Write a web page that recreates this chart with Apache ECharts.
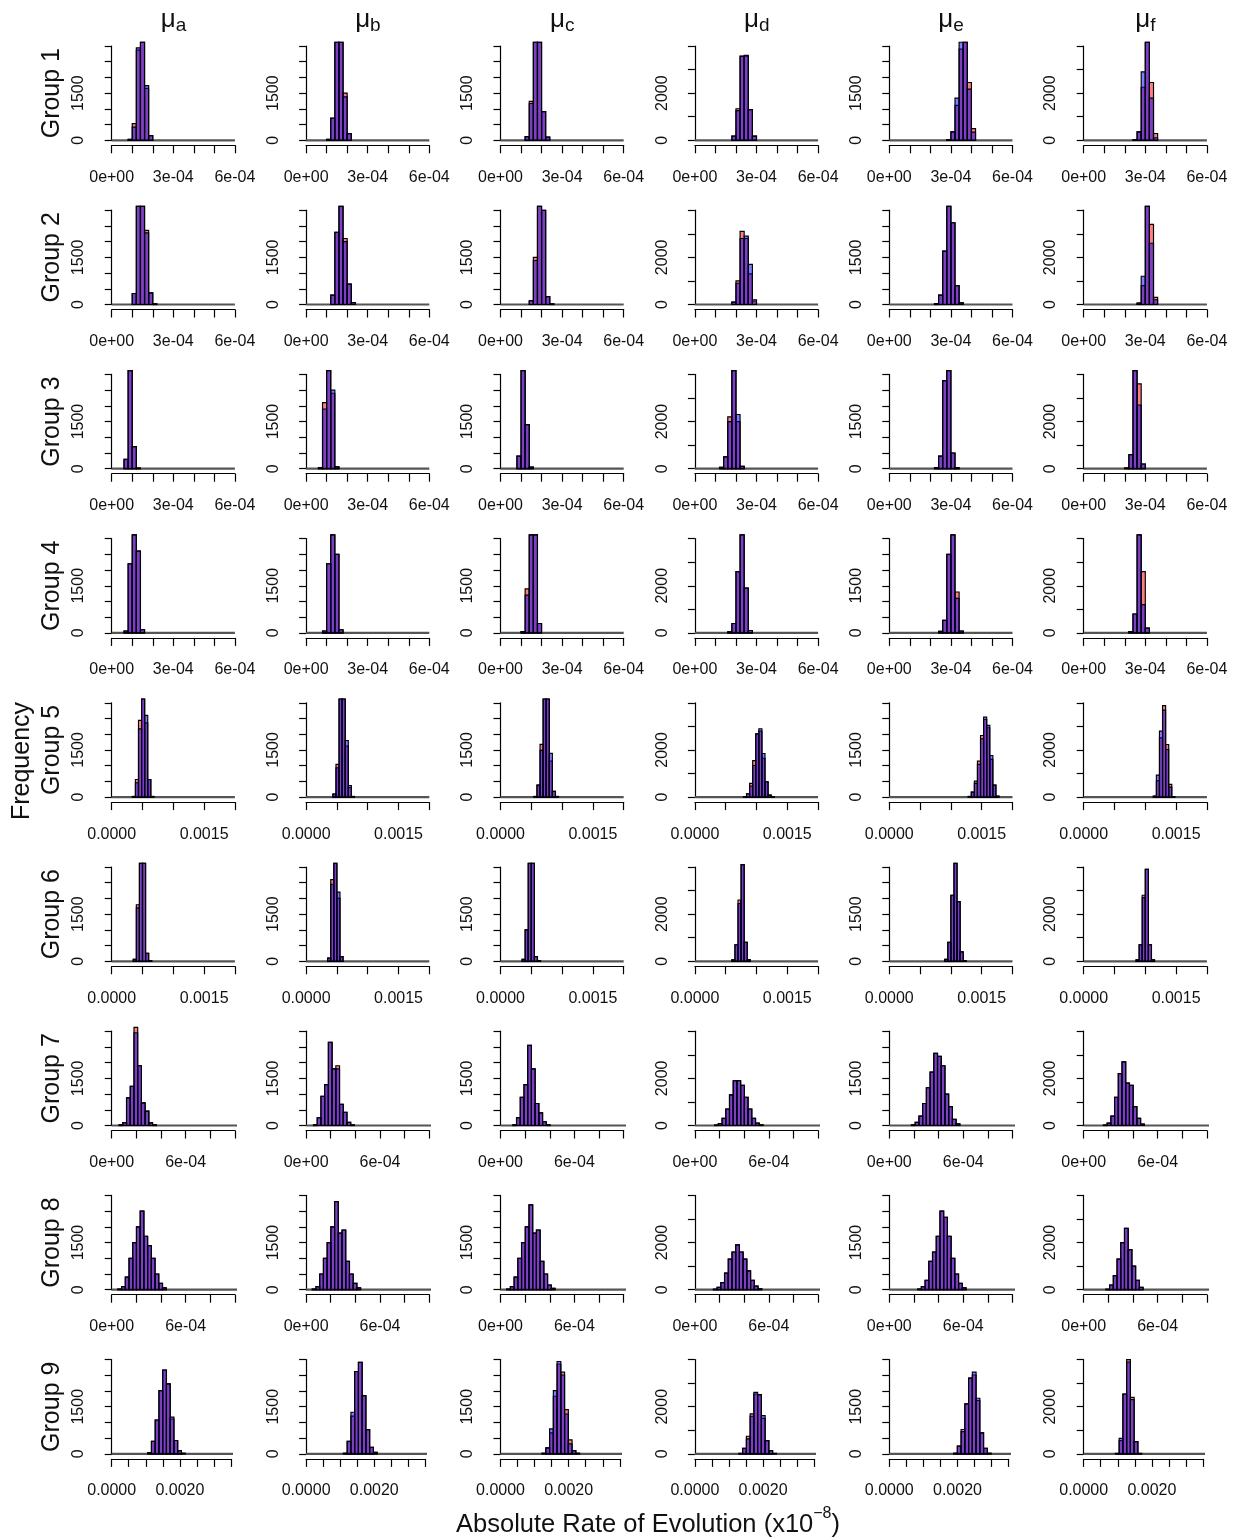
<!DOCTYPE html>
<html>
<head>
<meta charset="utf-8">
<script src="https://cdn.jsdelivr.net/npm/echarts@6/dist/echarts.min.js"></script>
<style>
  html, body { margin: 0; padding: 0; background: #fff; }
  #chart { width: 1236px; height: 1539px; }
</style>
</head>
<body>
<div id="chart"></div>
<script>
// ---- labels ----
const GROUP_LABELS = ['Group 1', 'Group 2', 'Group 3', 'Group 4', 'Group 5', 'Group 6', 'Group 7', 'Group 8', 'Group 9'];
const PARAM_SUBS = ['a', 'b', 'c', 'd', 'e', 'f'];

// ---- x axis per group (row) ----
const X_AXIS_MAX  = [6e-4, 6e-4, 6e-4, 6e-4, 0.002, 0.002, 0.001, 0.001, 0.0035];
const X_TICK_STEP = [1e-4, 1e-4, 1e-4, 1e-4, 5e-4, 5e-4, 2e-4, 2e-4, 5e-4];
const X_LABEL_AT  = [[0, 3e-4, 6e-4], [0, 3e-4, 6e-4], [0, 3e-4, 6e-4], [0, 3e-4, 6e-4],
                     [0, 0.0015], [0, 0.0015], [0, 6e-4], [0, 6e-4], [0, 0.002]];
const X_LABEL_TXT = [['0e+00', '3e-04', '6e-04'], ['0e+00', '3e-04', '6e-04'], ['0e+00', '3e-04', '6e-04'], ['0e+00', '3e-04', '6e-04'],
                     ['0.0000', '0.0015'], ['0.0000', '0.0015'], ['0e+00', '6e-04'], ['0e+00', '6e-04'], ['0.0000', '0.0020']];
const BIN_WIDTH   = [2e-5, 2e-5, 2e-5, 2e-5, 5e-5, 5e-5, 3.02e-5, 3.02e-5, 1.1e-4];
const HIST_END    = [6e-4, 6e-4, 6e-4, 6e-4, 0.002, 0.002, 1.035e-3, 1.035e-3, 0.00362];

// ---- y axis per parameter (column) ----
const Y_MAX   = [3000, 3000, 3000, 4000, 3000, 4000];
const Y_STEP  = [500, 500, 500, 1000, 500, 1000];
const Y_LABEL = [1500, 1500, 1500, 2000, 1500, 2000];

// ---- histogram counts: first bin start per panel, then counts for the two runs ----
const g1Start = [8e-5, 1.0e-4, 1.2e-4, 1.8e-4, 2.8e-4, 2.4e-4];
const g1Red  = [[30, 530, 2870, 4300, 1650, 150], [30, 710, 4200, 4200, 1500, 210], [115, 1240, 4500, 4000, 910, 100],
                [180, 1340, 3570, 3570, 1300, 180], [20, 270, 1110, 2900, 4300, 1840, 370], [20, 360, 2250, 4600, 2450, 290]];
const g1Blue = [[30, 420, 2940, 4300, 1740, 150], [30, 700, 4200, 4200, 1380, 210], [115, 1170, 4500, 4000, 910, 100],
                [180, 1260, 3560, 3600, 1300, 180], [20, 270, 1340, 3500, 4300, 1630, 260], [20, 360, 2900, 4600, 1790, 110]];

const g2Start = [1.0e-4, 1.2e-4, 1.4e-4, 1.8e-4, 2.2e-4, 2.6e-4];
const g2Red  = [[350, 3800, 3600, 2360, 370, 20], [300, 2300, 4200, 2100, 650, 60], [120, 1500, 4200, 3000, 250, 20],
                [100, 1000, 3100, 2800, 1300, 200], [30, 300, 1700, 4200, 2600, 600, 50], [60, 800, 4200, 3400, 300]];
const g2Blue = [[350, 3800, 3600, 2280, 370, 20], [300, 2300, 4200, 2000, 650, 60], [120, 1400, 4200, 3000, 250, 20],
                [100, 900, 2800, 2900, 1700, 150], [30, 300, 1700, 4200, 2600, 600, 50], [60, 1200, 4200, 2600, 200]];

const g3Start = [6e-5, 6e-5, 8e-5, 1.2e-4, 2.2e-4, 2.0e-4];
const g3Red  = [[300, 4300, 700, 20], [30, 2100, 4200, 2400, 60], [400, 4300, 1400, 50],
                [60, 500, 2200, 4200, 2000, 100], [30, 400, 2800, 4200, 500, 30], [30, 600, 4200, 3600, 200]];
const g3Blue = [[300, 4300, 700, 20], [30, 1900, 4200, 2500, 60], [400, 4300, 1400, 50],
                [60, 500, 2000, 4200, 2300, 100], [30, 400, 2800, 4200, 500, 30], [30, 600, 4200, 2700, 200]];

const g4Start = [6e-5, 8e-5, 1.0e-4, 1.6e-4, 2.4e-4, 2.2e-4];
const g4Red  = [[60, 2200, 4200, 2600, 100], [60, 2200, 4200, 2500, 100], [40, 1400, 4200, 4200, 300],
                [50, 400, 2600, 4200, 1900, 100], [50, 400, 2500, 4200, 1300, 60], [60, 800, 4200, 2600, 200]];
const g4Blue = [[60, 2200, 4200, 2600, 100], [60, 2200, 4200, 2500, 100], [40, 1200, 4200, 4200, 300],
                [50, 400, 2600, 4200, 1900, 100], [50, 400, 2500, 4200, 1100, 60], [60, 800, 4200, 1200, 200]];

const g5Start = [3.35e-4, 4.35e-4, 5.42e-4, 7.88e-4, 1.281e-3, 1.13e-3];
const g5Red  = [[20, 560, 2440, 4200, 2360, 560, 20], [100, 1040, 4200, 4200, 1620, 300, 20], [20, 380, 1675, 4200, 4200, 1145, 180, 20],
                [20, 140, 580, 1550, 2680, 2800, 1650, 650, 85, 20], [20, 160, 510, 1145, 1960, 2470, 2205, 1200, 380, 30], [40, 700, 2510, 3880, 2230, 540, 20]];
const g5Blue = [[20, 456, 2170, 4200, 2600, 560, 20], [100, 930, 4200, 4200, 1800, 370, 20], [20, 380, 1485, 4200, 4200, 1390, 180, 20],
                [20, 140, 470, 1340, 2680, 2900, 1850, 650, 85, 20], [20, 160, 435, 1040, 1855, 2545, 2280, 1325, 380, 30], [40, 930, 2800, 3690, 2020, 420, 20]];

const g6Start = [3.5e-4, 3.5e-4, 3.5e-4, 6.0e-4, 9.0e-4, 8.5e-4];
const g6Red  = [[60, 1800, 4200, 3500, 250, 20], [100, 2600, 4200, 2000, 150], [60, 1000, 4200, 3600, 150, 20],
                [60, 700, 2600, 4100, 800, 60], [60, 600, 2100, 4200, 1900, 300, 20], [60, 700, 2800, 3900, 700, 60]];
const g6Blue = [[60, 1700, 4200, 3500, 250, 20], [100, 2450, 4200, 2200, 150], [60, 1000, 4200, 3600, 150, 20],
                [60, 700, 2450, 4100, 800, 60], [60, 600, 2100, 4200, 1900, 300, 20], [60, 700, 2700, 3900, 700, 60]];

const g7Start = [6.0e-5, 6.0e-5, 1.0e-4, 1.6e-4, 1.8e-4, 1.6e-4];
const g7Red  = [[20, 90, 880, 1250, 3400, 1900, 720, 455, 85, 20], [20, 245, 930, 1300, 2650, 1800, 1900, 670, 420, 100, 20],
                [20, 250, 900, 1300, 2550, 1800, 700, 400, 120, 20], [20, 80, 300, 700, 1300, 1900, 1900, 1700, 1200, 700, 300, 100, 30],
                [20, 100, 300, 700, 1200, 1700, 2300, 2200, 1900, 1000, 600, 200, 50], [20, 100, 400, 1200, 2200, 2700, 1800, 1700, 800, 300, 60]];
const g7Blue = [[20, 90, 880, 1250, 2950, 1900, 720, 455, 85, 20], [20, 245, 930, 1300, 2650, 1800, 1800, 670, 420, 100, 20],
                [20, 250, 900, 1300, 2550, 1800, 700, 400, 120, 20], [20, 80, 300, 700, 1300, 1900, 1900, 1700, 1200, 700, 300, 100, 30],
                [20, 100, 300, 700, 1200, 1700, 2300, 2200, 1900, 1000, 600, 200, 50], [20, 100, 400, 1200, 2200, 2700, 1800, 1700, 800, 300, 60]];

const g8Start = [5e-5, 5e-5, 5e-5, 1.5e-4, 2.3e-4, 1.8e-4];
const g8Red  = [[20, 100, 400, 1000, 1500, 2000, 2500, 1700, 1400, 1000, 500, 200, 60], [20, 100, 500, 1000, 1500, 2000, 2800, 1800, 1900, 900, 500, 200, 60],
                [20, 100, 400, 1000, 1500, 2000, 2700, 1800, 1900, 900, 500, 150, 40], [20, 100, 300, 700, 1300, 1600, 1900, 1600, 1300, 800, 400, 150, 40],
                [20, 100, 300, 900, 1200, 1700, 2500, 2300, 1700, 1000, 500, 200, 60], [20, 200, 600, 1300, 2000, 2600, 1700, 1000, 400, 100]];
const g8Blue = [[20, 100, 400, 1000, 1500, 2000, 2500, 1700, 1400, 1000, 500, 200, 60], [20, 100, 500, 1000, 1500, 2000, 2800, 1800, 1900, 900, 500, 200, 60],
                [20, 100, 400, 1000, 1500, 2000, 2700, 1800, 1900, 900, 500, 150, 40], [20, 100, 300, 700, 1300, 1600, 1900, 1600, 1300, 800, 400, 150, 40],
                [20, 100, 300, 900, 1200, 1700, 2500, 2300, 1700, 1000, 500, 200, 60], [20, 200, 600, 1300, 2000, 2600, 1700, 1000, 400, 100]];

const g9Start = [1.056e-3, 1.095e-3, 1.22e-3, 1.29e-3, 1.886e-3, 9.3e-4];
const g9Red  = [[40, 400, 1080, 2015, 2670, 2230, 1110, 425, 105, 20], [20, 400, 1200, 2620, 2915, 1855, 770, 210, 50],
                [20, 190, 670, 1835, 2860, 2600, 1410, 445, 105, 20], [20, 240, 750, 1695, 2540, 2515, 1510, 565, 140, 20],
                [20, 245, 775, 1590, 2410, 2510, 1700, 670, 180, 20], [20, 565, 2540, 4000, 2400, 520, 20]];
const g9Blue = [[40, 400, 1080, 2015, 2670, 2230, 1170, 425, 105, 20], [20, 400, 1325, 2620, 2915, 1855, 770, 210, 50],
                [20, 190, 795, 2015, 2940, 2510, 1270, 320, 105, 20], [20, 240, 635, 1595, 2610, 2515, 1625, 565, 140, 20],
                [20, 245, 710, 1590, 2410, 2600, 1770, 670, 180, 20], [20, 660, 2540, 3900, 2300, 520, 20]];

const STARTS = [g1Start, g2Start, g3Start, g4Start, g5Start, g6Start, g7Start, g8Start, g9Start];
const REDS   = [g1Red, g2Red, g3Red, g4Red, g5Red, g6Red, g7Red, g8Red, g9Red];
const BLUES  = [g1Blue, g2Blue, g3Blue, g4Blue, g5Blue, g6Blue, g7Blue, g8Blue, g9Blue];

// ---- layout (pixels) ----
const FONT = "'Liberation Sans', Arial, Helvetica, sans-serif";
const COL_X0 = 111.7, COL_STEP = 194.4;
const ROW_Y0 = 140.3, ROW_STEP = 164.2;
const PLOT_H = 94.3;
const PLOT_W = 123.2, PLOT_W_LAST = 119.3;

const RED_FILL = 'rgba(255,0,0,0.5)';
const BLUE_FILL = 'rgba(0,0,255,0.5)';

function toBins(start, width, counts) {
  return counts.map((n, k) => [start + k * width, start + (k + 1) * width, n]);
}

function histRenderer(fill) {
  return function (params, api) {
    const lo = api.value(0), hi = api.value(1), n = api.value(2);
    const a = api.coord([lo, 0]);
    const b = api.coord([hi, n]);
    const cs = params.coordSys;
    const pad = cs.height * 0.04;
    const shape = echarts.graphic.clipRectByRect(
      { x: a[0], y: b[1], width: b[0] - a[0], height: a[1] - b[1] },
      { x: cs.x - 30, y: cs.y - pad, width: cs.width + 60, height: cs.height + pad + 1 }
    );
    if (!shape) return;
    return { type: 'rect', shape: shape, style: { fill: fill, stroke: '#000', lineWidth: 1.15 } };
  };
}

function labelPicker(marks, texts, tol) {
  return function (v) {
    for (let k = 0; k < marks.length; k++) {
      if (Math.abs(v - marks[k]) < tol) return texts[k];
    }
    return '';
  };
}

const grids = [], xAxes = [], yAxes = [], series = [], graphics = [];

for (let r = 0; r < 9; r++) {
  const zeroY = ROW_Y0 + ROW_STEP * r;
  for (let c = 0; c < 6; c++) {
    const idx = r * 6 + c;
    const left = COL_X0 + COL_STEP * c;
    const width = r === 8 ? PLOT_W_LAST : PLOT_W;
    grids.push({ left: left, top: zeroY - PLOT_H, width: width, height: PLOT_H, outerBoundsMode: 'none', containLabel: false });
    xAxes.push({
      gridIndex: idx, type: 'value', min: 0, max: X_AXIS_MAX[r], interval: X_TICK_STEP[r],
      offset: 5,
      axisLine: { show: true, onZero: false, lineStyle: { color: '#000', width: 1.2 } },
      axisTick: { show: true, inside: false, length: 8, lineStyle: { color: '#000', width: 1.2 } },
      axisLabel: { show: true, margin: 24, fontSize: 16, color: '#111', fontFamily: FONT, hideOverlap: false,
                   formatter: labelPicker(X_LABEL_AT[r], X_LABEL_TXT[r], X_TICK_STEP[r] * 0.01) },
      splitLine: { show: false }
    });
    yAxes.push({
      gridIndex: idx, type: 'value', min: 0, max: Y_MAX[c], interval: Y_STEP[c],
      offset: 4.7,
      axisLine: { show: true, lineStyle: { color: '#000', width: 1.2 } },
      axisTick: { show: true, inside: false, length: 7, lineStyle: { color: '#000', width: 1.2 } },
      axisLabel: { show: true, rotate: 90, margin: 20, fontSize: 16, color: '#111', fontFamily: FONT, hideOverlap: false,
                   formatter: labelPicker([0, Y_LABEL[c]], ['0', String(Y_LABEL[c])], 1) },
      splitLine: { show: false }
    });
    series.push({
      type: 'line', xAxisIndex: idx, yAxisIndex: idx, clip: false, silent: true,
      data: [[0, 0], [HIST_END[r], 0]], symbol: 'none',
      lineStyle: { color: '#555', width: 2.2 }, z: 1
    });
    series.push({
      type: 'custom', xAxisIndex: idx, yAxisIndex: idx, silent: true, z: 2,
      renderItem: histRenderer(RED_FILL), encode: { x: [0, 1], y: 2 },
      data: toBins(STARTS[r][c], BIN_WIDTH[r], REDS[r][c])
    });
    series.push({
      type: 'custom', xAxisIndex: idx, yAxisIndex: idx, silent: true, z: 3,
      renderItem: histRenderer(BLUE_FILL), encode: { x: [0, 1], y: 2 },
      data: toBins(STARTS[r][c], BIN_WIDTH[r], BLUES[r][c])
    });
  }
  graphics.push({
    type: 'text', x: 52, y: zeroY - PLOT_H / 2, rotation: Math.PI / 2,
    style: { text: GROUP_LABELS[r], font: '25px ' + FONT, fill: '#111', align: 'center', verticalAlign: 'middle' }
  });
}

// column headers: mu with a letter subscript
for (let c = 0; c < 6; c++) {
  const cx = COL_X0 + COL_STEP * c + 61.8;
  graphics.push({
    type: 'text', x: cx, y: 20,
    style: {
      text: '{m|μ}{s|' + PARAM_SUBS[c] + '}',
      align: 'center', verticalAlign: 'middle',
      rich: {
        m: { fontSize: 26, fontFamily: FONT, fill: '#111', lineHeight: 30, verticalAlign: 'middle' },
        s: { fontSize: 19, fontFamily: FONT, fill: '#111', lineHeight: 30, verticalAlign: 'bottom' }
      }
    }
  });
}

graphics.push({
  type: 'text', x: 22, y: 761, rotation: Math.PI / 2,
  style: { text: 'Frequency', font: '25px ' + FONT, fill: '#111', align: 'center', verticalAlign: 'middle' }
});
graphics.push({
  type: 'text', x: 648, y: 1522,
  style: {
    text: '{t|Absolute Rate of Evolution (x10}{p|−8}{t|)}',
    align: 'center', verticalAlign: 'middle',
    rich: {
      t: { fontSize: 25.5, fontFamily: FONT, fill: '#111', lineHeight: 32, verticalAlign: 'bottom' },
      p: { fontSize: 16, fontFamily: FONT, fill: '#111', lineHeight: 32, verticalAlign: 'top' }
    }
  }
});

const chart = echarts.init(document.getElementById('chart'), null, { renderer: 'canvas' });
chart.setOption({
  animation: false,
  backgroundColor: '#fff',
  grid: grids,
  xAxis: xAxes,
  yAxis: yAxes,
  series: series,
  graphic: graphics
});
</script>
</body>
</html>
